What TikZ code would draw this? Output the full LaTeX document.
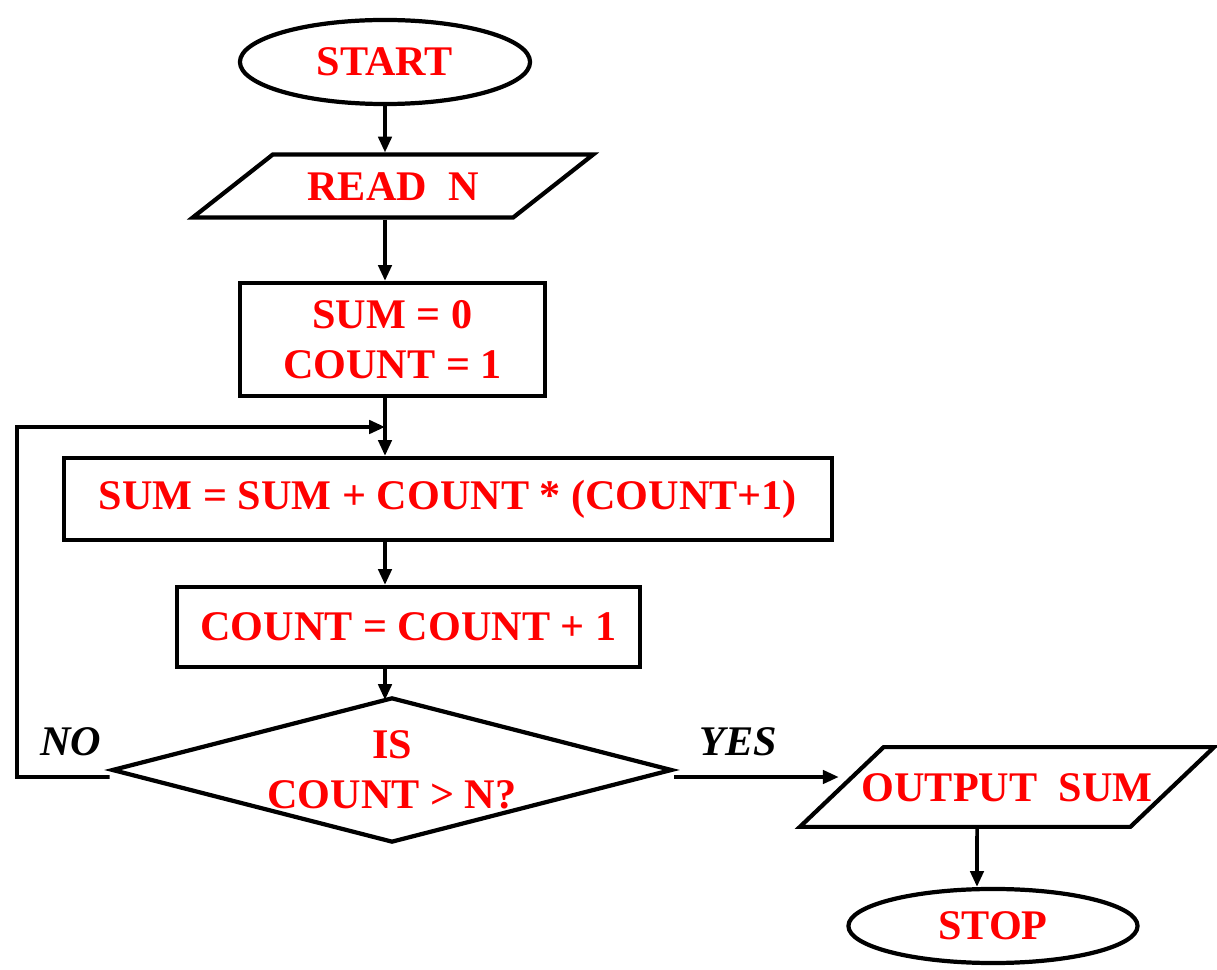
\documentclass[tikz,border=0pt]{standalone}
\usepackage{fontspec}
\setmainfont{Liberation Serif}
\usetikzlibrary{shapes.geometric,arrows.meta}
\definecolor{txtred}{RGB}{255,0,0}

\begin{document}
\begin{tikzpicture}[x=0.01cm,y=-0.01cm,
        every node/.style={font=\fontsize{12}{14.2}\selectfont\bfseries},
        blk/.style={draw,line width=1.2pt,text=txtred,inner sep=0pt},
        term/.style={blk,ellipse},
        io/.style={blk,trapezium,trapezium stretches body,text height=8pt,text depth=0pt},
        proc/.style={blk,rectangle,align=center},
        dec/.style={blk,diamond,aspect=3.86,align=center},
        arr/.style={line width=1pt,-{Triangle[length=4.5pt,width=3.8pt]}},
        lbl/.style={font=\fontsize{12}{14.2}\selectfont\bfseries\itshape}]
        \useasboundingbox (0,0) rectangle (1217,970);
        \coordinate (ax) at (385,0);
        \node[term,minimum width=2.9cm,minimum height=0.84cm] (start) at (385,62) {START};
        \node[io,trapezium left angle=38.2,trapezium right angle=141.8,minimum width=4cm,inner ysep=4.93pt] (read) at (393,186) {READ\ \ N};
        \node[proc,minimum width=3.05cm,minimum height=1.13cm] (init) at (392.5,339.5) {SUM = 0\\COUNT = 1};
        \node[proc,minimum width=7.68cm,minimum height=0.82cm] (sumbox) at (448,499) {SUM = SUM + COUNT * (COUNT+1)};
        \node[proc,minimum width=4.63cm,minimum height=0.8cm] (cntbox) at (408.5,627) {COUNT = COUNT + 1};
        \node[dec,minimum width=5.6cm,minimum height=1.45cm] (dia) at (392,770) {IS\\COUNT > N?};
        \node[io,trapezium left angle=43.6,trapezium right angle=136.4,minimum width=4.14cm,inner ysep=7.34pt,inner xsep=-0.3cm] (out) at (1007,787) {OUTPUT\ \ SUM};
        \node[term,minimum width=2.89cm,minimum height=0.74cm] (stop) at (993,926) {STOP};
        \node[lbl] (no) at (71,742) {NO};
        \node[lbl] (yes) at (738,742) {YES};
        \coordinate (join) at (385,427);
        \coordinate (loopL) at (17,777);
        \draw[arr] (start.south) -- (ax |- read.north);
        \draw[arr] (ax |- read.south) -- (ax |- init.north);
        \draw[arr] (ax |- init.south) -- (ax |- sumbox.north);
        \draw[arr] ([yshift=-0.07cm]dia.west) -- (loopL) |- (join);
        \draw[arr] (ax |- sumbox.south) -- (ax |- cntbox.north);
        \draw[arr] (ax |- cntbox.south) -- (385,700);
        \draw[arr] ([yshift=-0.07cm]dia.east) -- ([yshift=-0.07cm]dia.east -| out.west);
        \draw[arr] ([xshift=-0.3cm]out.south) -- ([xshift=-0.16cm]stop.north);
\end{tikzpicture}
\end{document}
